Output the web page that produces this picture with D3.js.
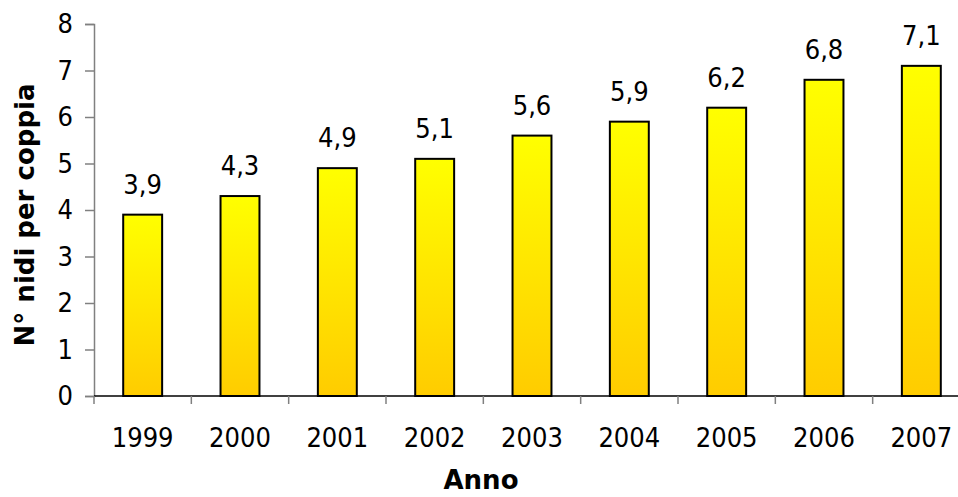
<!DOCTYPE html>
<html>
<head>
<meta charset="utf-8">
<script src="https://cdn.jsdelivr.net/npm/d3@7"></script>
<style>
  html, body { margin: 0; padding: 0; background: #fff; }
  svg { display: block; }
  text { font-family: Tahoma, "DejaVu Sans Condensed", "DejaVu Sans", sans-serif; }
  text.title { font-family: "DejaVu Sans", sans-serif; font-weight: bold; }
</style>
</head>
<body>
<svg id="chart" width="958" height="497"></svg>
<script>
// Nests per breeding pair, by year
const years = ["1999", "2000", "2001", "2002", "2003", "2004", "2005", "2006", "2007"];
const nestsPerPair = [3.9, 4.3, 4.9, 5.1, 5.6, 5.9, 6.2, 6.8, 7.1];
const yTicks = [0, 1, 2, 3, 4, 5, 6, 7, 8];

const svg = d3.select("#chart");
const plot = { left: 94, right: 970, top: 24, bottom: 396 };
const labelSize = 27;

const x = d3.scaleBand().domain(years).range([plot.left, plot.right]).padding(0);
const y = d3.scaleLinear().domain([0, 8]).range([plot.bottom, plot.top]);

// Bar fill: bright yellow at the top fading into gold at the base
const grad = svg.append("defs").append("linearGradient")
  .attr("id", "barFill").attr("x1", 0).attr("y1", 0).attr("x2", 0).attr("y2", 1);
grad.append("stop").attr("offset", "0%").attr("stop-color", "#FFFF00");
grad.append("stop").attr("offset", "100%").attr("stop-color", "#FFCC00");

const barW = x.bandwidth() * 0.4;
const data = years.map((yr, i) => ({ year: yr, value: nestsPerPair[i] }));

// Y axis
const yAxis = svg.append("g")
  .attr("transform", `translate(${plot.left},0)`)
  .call(d3.axisLeft(y).tickValues(yTicks).tickSize(9).tickPadding(12).tickFormat(d3.format("d")));
yAxis.select(".domain").attr("stroke", "#808080").attr("stroke-width", 1.5);
yAxis.selectAll(".tick line").attr("stroke", "#808080").attr("stroke-width", 1.5);
yAxis.selectAll(".tick text").attr("font-size", labelSize).attr("fill", "#000")
  .style("font-family", 'Tahoma, "DejaVu Sans Condensed", sans-serif');

// Bars
svg.append("g").selectAll("rect").data(data).join("rect")
  .attr("x", d => x(d.year) + (x.bandwidth() - barW) / 2)
  .attr("y", d => y(d.value))
  .attr("width", barW)
  .attr("height", d => y(0) - y(d.value))
  .attr("fill", "url(#barFill)")
  .attr("stroke", "#000")
  .attr("stroke-width", 2);

// Value labels above the bars
const fmt = v => d3.format(".1f")(v).replace(".", ",");
svg.append("g").selectAll("text").data(data).join("text")
  .attr("x", d => x(d.year) + x.bandwidth() / 2)
  .attr("y", d => y(d.value) - 21)
  .attr("text-anchor", "middle")
  .attr("font-size", labelSize)
  .attr("fill", "#000")
  .text(d => fmt(d.value));

// X axis: baseline with ticks at the category boundaries
const xg = svg.append("g");
xg.append("line")
  .attr("x1", plot.left).attr("x2", 958)
  .attr("y1", y(0)).attr("y2", y(0))
  .attr("stroke", "#000").attr("stroke-width", 1.5);
const edges = years.map(yr => x(yr));
xg.selectAll("line.tick").data(edges).join("line")
  .attr("class", "tick")
  .attr("x1", d => d).attr("x2", d => d)
  .attr("y1", y(0)).attr("y2", y(0) + 8)
  .attr("stroke", "#808080").attr("stroke-width", 1.5);
xg.selectAll("text").data(years).join("text")
  .attr("x", d => x(d) + x.bandwidth() / 2)
  .attr("y", 447)
  .attr("text-anchor", "middle")
  .attr("font-size", labelSize)
  .attr("fill", "#000")
  .text(d => d);

// Axis titles
svg.append("text")
  .attr("class", "title")
  .attr("x", 481).attr("y", 489)
  .attr("text-anchor", "middle")
  .attr("font-size", 26)
  .text("Anno");

svg.append("text")
  .attr("class", "title")
  .attr("transform", "translate(34,215) rotate(-90)")
  .attr("text-anchor", "middle")
  .attr("font-size", 26)
  .text("N° nidi per coppia");
</script>
</body>
</html>
